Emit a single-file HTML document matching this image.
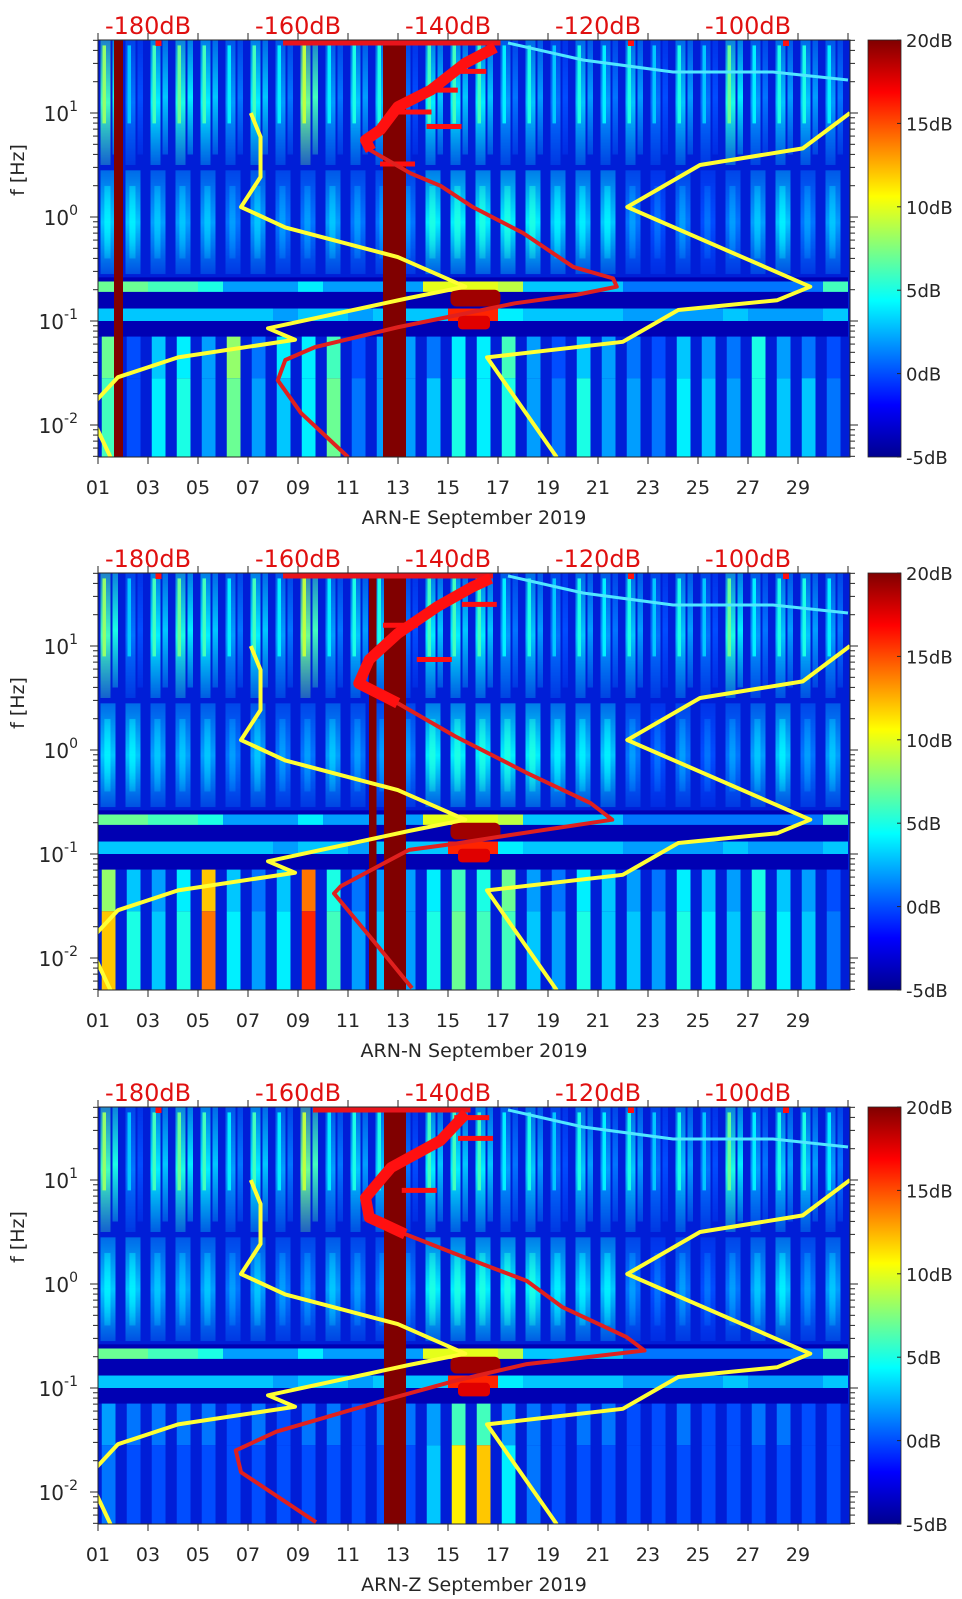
<!DOCTYPE html>
<html><head><meta charset="utf-8">
<style>
html,body{margin:0;padding:0;background:#fff;}
svg{display:block;}
text{font-family:"DejaVu Sans","Liberation Sans",sans-serif;}
</style></head>
<body>
<svg id="fig" width="962" height="1599" viewBox="0 0 962 1599" xmlns="http://www.w3.org/2000/svg">
<defs>
<linearGradient id="jetv" x1="0" y1="1" x2="0" y2="0">
<stop offset="0" stop-color="#00008f"/><stop offset="0.125" stop-color="#0000ff"/>
<stop offset="0.375" stop-color="#00ffff"/><stop offset="0.625" stop-color="#ffff00"/>
<stop offset="0.875" stop-color="#ff0000"/><stop offset="1" stop-color="#800000"/>
</linearGradient>
<linearGradient id="fade" x1="0" y1="0" x2="0" y2="1">
<stop offset="0" stop-color="#fff" stop-opacity="0.45"/><stop offset="0.5" stop-color="#fff" stop-opacity="1"/><stop offset="1" stop-color="#fff" stop-opacity="0.3"/>
</linearGradient>
<mask id="fadeMask" maskContentUnits="objectBoundingBox"><rect x="0" y="0" width="1" height="1" fill="url(#fade)"/></mask>
</defs>
</svg>
<script>
// ---- data ----
const panelTitles = ["ARN-E September 2019","ARN-N September 2019","ARN-Z September 2019"];
const panelTops = [40, 573, 1107];
const dayTickLabels = ["01","03","05","07","09","11","13","15","17","19","21","23","25","27","29"];
const dbTickLabels = ["-180dB","-160dB","-140dB","-120dB","-100dB"];
const dbTickValues = [-180,-160,-140,-120,-100];
const cbarLabels = ["20dB","15dB","10dB","5dB","0dB","-5dB"];
const cbarValues = [20,15,10,5,0,-5];
const yTickExps = [1,0,-1,-2];
// daily levels (colorbar dB) per band
const hiBand = [8,3,6,7,6,4,6,4,9,4,5,5,3,6,6,6,4,5,3,5,4,5,3,5,3,7,4,5,5,4];
const midBand = [4,4,3,3,3,2,3,2,2,3,2,2,2,5,5,5,5,5,4,4,4,2,1,2,1,2,3,4,2,3];
const streakBand = [7,7,6,6,5,2,2,2,4,2,2,2,2,10,10,10,9,3,3,3,3,1,1,1,1,1,1,1,1,6];
const band01 = [3,3,3,3,3,3,3,2,3,3,2,3,3,3,16,16,4,3,3,3,3,2,2,2,2,3,2,2,2,3];
const lowE1 = [7,0,3,4,2,8,1,4,4,6,0,2,2,1,4,4,6,2,0,3,2,1,0,3,2,1,5,2,1,0];
const lowE2 = [6,0,4,5,2,7,2,3,4,7,1,2,2,3,5,4,5,2,1,5,2,2,1,4,3,2,5,3,3,1];
const lowN1 = [8,3,2,4,12,3,1,3,14,5,1,2,2,4,6,5,7,2,1,4,3,2,1,4,3,2,5,3,2,0];
const lowN2 = [12,5,3,5,14,4,2,4,16,6,2,3,2,5,7,6,6,3,2,5,3,3,2,5,4,3,6,4,3,1];
const lowZ1 = [2,1,1,1,1,0,1,0,1,1,0,1,1,2,6,6,2,1,0,1,1,0,0,1,0,0,1,1,0,0];
const lowZ2 = [1,0,0,0,0,0,0,0,0,0,0,0,0,3,11,12,4,1,0,0,0,0,0,0,0,0,0,0,0,0];
const barsE = [[1.64,2.0],[12.4,13.32]];
const barsN = [[11.84,12.14],[12.44,13.32]];
const barsZ = [[12.44,13.32]];
// noise models (dB, log10 f)
const nlnmDb = [-166.3,-165,-165,-167.6,-161.7,-146.7,-137.7,-145.3,-164,-160.4,-176,-184,-188,-185];
const nlnmLf = [1.0,0.77,0.385,0.096,-0.1,-0.385,-0.67,-0.78,-1.07,-1.18,-1.35,-1.54,-1.85,-2.31];
const nhnmDb = [-86.4,-92.7,-106.4,-116.1,-91.7,-96.1,-109.3,-116.7,-134.8,-125.5];
const nhnmLf = [1.0,0.66,0.5,0.096,-0.67,-0.8,-0.894,-1.2,-1.35,-2.31];
// station PSD curves (dB, log10 f)
const redEDb = [-153.3,-159.6,-162.7,-161.7,-157.7,-146.7,-131.1,-123,-117.5,-118,-123.3,-130,-136.7,-141,-145,-150.3,-151,-149,-146.7,-142.3,-137.7,-133.7];
const redELf = [-2.31,-1.885,-1.57,-1.375,-1.25,-1.06,-0.83,-0.75,-0.67,-0.59,-0.48,-0.154,0.096,0.3,0.42,0.64,0.74,0.84,1.06,1.22,1.48,1.63];
const redNDb = [-144.8,-150,-155.2,-154.3,-145.2,-139,-131.9,-118.1,-121,-129.5,-139,-146.7,-151.9,-150.5,-146.7,-141.4,-136.7,-134.3];
const redNLf = [-2.29,-1.83,-1.38,-1.31,-0.96,-0.9,-0.82,-0.67,-0.51,-0.22,0.13,0.45,0.64,0.87,1.12,1.38,1.57,1.65];
const redZDb = [-157.6,-167.6,-168.3,-162.9,-148.6,-139,-129.5,-113.8,-116.2,-124.8,-129.5,-139,-145.7,-150.5,-151,-147.6,-141,-137.6];
const redZLf = [-2.29,-1.81,-1.6,-1.42,-1.12,-0.93,-0.77,-0.64,-0.51,-0.22,0.03,0.29,0.48,0.64,0.83,1.12,1.38,1.64];
const spikeEDb = [-134.9,-138.7,-142.2,-138.2,-144.4];
const spikeELf = [1.4,1.22,1.01,0.87,0.51];
const spikeNDb = [-133.5,-139.5,-144];
const spikeNLf = [1.4,0.87,1.2];
const spikeZDb = [-134.5,-134,-141.5];
const spikeZLf = [1.6,1.4,0.9];
const topLineDb = [[-162,-133],[-162,-134],[-158,-137]];

const panels = [
 {low1:lowE1, low2:lowE2, bars:barsE, rDb:redEDb, rLf:redELf, sDb:spikeEDb, sLf:spikeELf},
 {low1:lowN1, low2:lowN2, bars:barsN, rDb:redNDb, rLf:redNLf, sDb:spikeNDb, sLf:spikeNLf},
 {low1:lowZ1, low2:lowZ2, bars:barsZ, rDb:redZDb, rLf:redZLf, sDb:spikeZDb, sLf:spikeZLf}
];

// ---- scales ----
const X0 = 98, X1 = 848, PH = 417, LFTOP = 1.702, LFBOT = -2.307;
function xDay(d){ return X0 + (d-1)*25; }
function xDb(db){ return X0 + (db+186.67)*7.5; }
function yLf(top, lf){ return top + (LFTOP-lf)*104; }
function jet(v){
  let t = Math.max(0, Math.min(1, (v+5)/25));
  const st=[[0,0,0,143],[0.125,0,0,255],[0.375,0,255,255],[0.625,255,255,0],[0.875,255,0,0],[1,128,0,0]];
  for(let i=1;i<st.length;i++){ if(t<=st[i][0]){ const a=st[i-1],b=st[i],f=(t-a[0])/(b[0]-a[0]);
    return `rgb(${Math.round(a[1]+f*(b[1]-a[1]))},${Math.round(a[2]+f*(b[2]-a[2]))},${Math.round(a[3]+f*(b[3]-a[3]))})`; } }
  return "rgb(128,0,0)";
}
const NS="http://www.w3.org/2000/svg";
const svg=document.getElementById("fig");
function mk(tag, attrs, parent){ const e=document.createElementNS(NS,tag); for(const k in attrs) e.setAttribute(k, attrs[k]); (parent||svg).appendChild(e); return e; }

panels.forEach((p, pi) => {
  const top = panelTops[pi];
  const g = mk("g", {});
  
  
  const cid = "clip"+pi;
  const cp = mk("clipPath", {id:cid}, g); mk("rect", {x:X0, y:top, width:X1-X0+2, height:PH}, cp);
  const hm = mk("g", {"clip-path":`url(#${cid})`}, g);
  
  
  mk("rect", {x:X0, y:top, width:X1-X0+2, height:PH, fill:"rgb(0,30,215)"}, hm);
  function band(arr, lfHi, lfLo, f0, f1, name, mask){
    arr.forEach((v,i)=>{
      const a = {x:xDay(i+1+f0), y:yLf(top,lfHi), width:(f1-f0)*25, height:yLf(top,lfLo)-yLf(top,lfHi), fill:jet(v)};
      if(mask) a.mask="url(#fadeMask)";
      const r = mk("rect", a, hm);
      
      
    });
  }
  // high-frequency band: daily striped activity
  band(hiBand.map(v=>v-2), LFTOP, 0.5, 0.1, 0.5, 'hi-band', true);
  band(hiBand, 1.65, 0.9, 0.18, 0.32, 'hi-band-core', false);
  band(hiBand.map(v=>v-3), LFTOP, 0.6, 0.58, 0.8, 'hi-band-b', true);
  // mid band (microseism fingers)
  band(midBand.map(v=>v-1), 0.45, -0.55, 0.1, 0.7, 'mid-band', true);
  band(midBand, 0.3, -0.4, 0.25, 0.5, 'mid-band-core', true);
  // dark gap & streaks
  band(streakBand.map(()=>-4), -0.58, -0.88, 0, 1, 'gap');
  band(streakBand, -0.62, -0.72, 0, 1, 'streak');
  band(band01, -0.88, -1.0, 0, 1, 'band-01');
  band(band01.map(()=>-4), -1.0, -1.15, 0, 1, 'gap-2');
  band(p.low1, -1.15, -1.55, 0.15, 0.7, 'low-band-1');
  band(p.low2, -1.55, LFBOT, 0.15, 0.7, 'low-band-2');
  // microseism blobs
  mk("rect",{x:xDay(15.1),y:yLf(top,-0.7),width:50,height:yLf(top,-0.86)-yLf(top,-0.7),fill:"#a00000",rx:6},hm);
  mk("rect",{x:xDay(15.4),y:yLf(top,-0.95),width:32,height:yLf(top,-1.08)-yLf(top,-0.95),fill:"#e00000",rx:4},hm);
  // cyan wiggle line at top right
  mk("polyline",{points:`${xDay(17.4)},${top+3} ${xDay(20.4)},${top+20} ${xDay(24)},${top+32} ${xDay(28)},${top+32} ${X1},${top+40}`,fill:"none",stroke:"#50e8ff","stroke-width":3},hm);
  // saturated bars
  p.bars.forEach(b=>{
    const r=mk("rect",{x:xDay(b[0]),y:top,width:(b[1]-b[0])*25,height:PH,fill:"#800000"},hm);
    
    
  });
  // noise models
  const lines = mk("g",{"clip-path":`url(#${cid})`},g);
  const nl = mk("polyline",{points:nlnmDb.map((d,i)=>xDb(d)+","+yLf(top,nlnmLf[i])).join(" "),fill:"none",stroke:"#ffff33","stroke-width":4,"stroke-linejoin":"round"},lines);
  
  
  const nh = mk("polyline",{points:nhnmDb.map((d,i)=>xDb(d)+","+yLf(top,nhnmLf[i])).join(" "),fill:"none",stroke:"#ffff33","stroke-width":4,"stroke-linejoin":"round"},lines);
  
  
  // red PSD curve
  const tl = mk("line",{x1:xDb(topLineDb[pi][0]),x2:xDb(topLineDb[pi][1]),y1:top+3,y2:top+3,stroke:"#e8141c","stroke-width":5},lines);
  
  
  p.sDb.forEach((d,i)=>{
    const s=mk("line",{x1:xDb(d)-35,x2:xDb(d),y1:yLf(top,p.sLf[i]),y2:yLf(top,p.sLf[i]),stroke:"#ff1010","stroke-width":5},lines);
    
    
  });
  const rp = mk("polyline",{points:p.rDb.map((d,i)=>xDb(d)+","+yLf(top,p.rLf[i])).join(" "),fill:"none",stroke:"#e0201e","stroke-width":4,"stroke-linejoin":"round"},lines);
  
  
  const idx = p.rLf.map((lf,i)=>i).filter(i=>p.rLf[i]>=0.45);
  const rt = mk("polyline",{points:idx.map(i=>xDb(p.rDb[i])+","+yLf(top,p.rLf[i])).join(" "),fill:"none",stroke:"#ff1010","stroke-width":11,"stroke-linejoin":"round"},lines);
  
  
  [3.3, 22.2, 28.4].forEach(d=>mk("rect",{x:xDay(d),y:top,width:6,height:6,fill:"#ff1010"},lines));
  // axes box
  mk("rect",{x:X0,y:top,width:X1-X0+2,height:PH,fill:"none",stroke:"#262626","stroke-width":1},g);
  // bottom ticks & labels
  dayTickLabels.forEach(l=>{
    const x = xDay(+l);
    mk("line",{x1:x,x2:x,y1:top+PH,y2:top+PH+7,stroke:"#262626"},g);
    const t=mk("text",{x:x,y:top+PH+37,"font-size":19,"text-anchor":"middle",fill:"#262626"},g); t.textContent=l;
    
    
  });
  const tt=mk("text",{x:474,y:top+PH+67,"font-size":19,"text-anchor":"middle",fill:"#262626"},g); tt.textContent=panelTitles[pi];
  
  
  // top ticks & dB labels
  for(let x=X0;x<=X1+1;x+=50) mk("line",{x1:x,x2:x,y1:top,y2:top-7,stroke:"#262626"},g);
  dbTickValues.forEach((v,i)=>{
    const t=mk("text",{x:xDb(v),y:top-6,"font-size":24,"text-anchor":"middle",fill:"#e01010"},g); t.textContent=dbTickLabels[i];
    
    
  });
  // y ticks
  for(let e=-3;e<=1;e++){ for(let m=1;m<=9;m++){ const lf=e+Math.log10(m); if(lf<LFBOT||lf>LFTOP) continue;
    const y=yLf(top,lf), L=(m===1)?8:5;
    mk("line",{x1:X0-L,x2:X0,y1:y,y2:y,stroke:"#262626"},g);
    mk("line",{x1:X1+2,x2:X1+2+L,y1:y,y2:y,stroke:"#262626"},g);
  }}
  yTickExps.forEach(e=>{
    const y=yLf(top,e);
    const t=mk("text",{x:78,y:y+8,"font-size":20,"text-anchor":"end",fill:"#262626"},g);
    
    
    t.textContent="10";
    const s=mk("tspan",{"font-size":14,dy:-10},t); s.textContent=String(e);
  });
  const yt=mk("text",{x:0,y:0,"font-size":19,"text-anchor":"middle",fill:"#262626",transform:`translate(24,${top+130}) rotate(-90)`},g); yt.textContent="f [Hz]";
  
  
  // colorbar
  const cb=mk("rect",{x:868,y:top,width:33,height:PH,fill:"url(#jetv)",stroke:"#262626","stroke-width":0.8},g);
  
  
  cbarValues.forEach((v,i)=>{
    const y= top + (20-v)/25*PH;
    mk("line",{x1:897,x2:901,y1:y,y2:y,stroke:"#262626"},g);
    const t=mk("text",{x:906,y:y+7,"font-size":18,fill:"#262626"},g); t.textContent=cbarLabels[i];
    
    
  });
});
</script>
</body></html>
